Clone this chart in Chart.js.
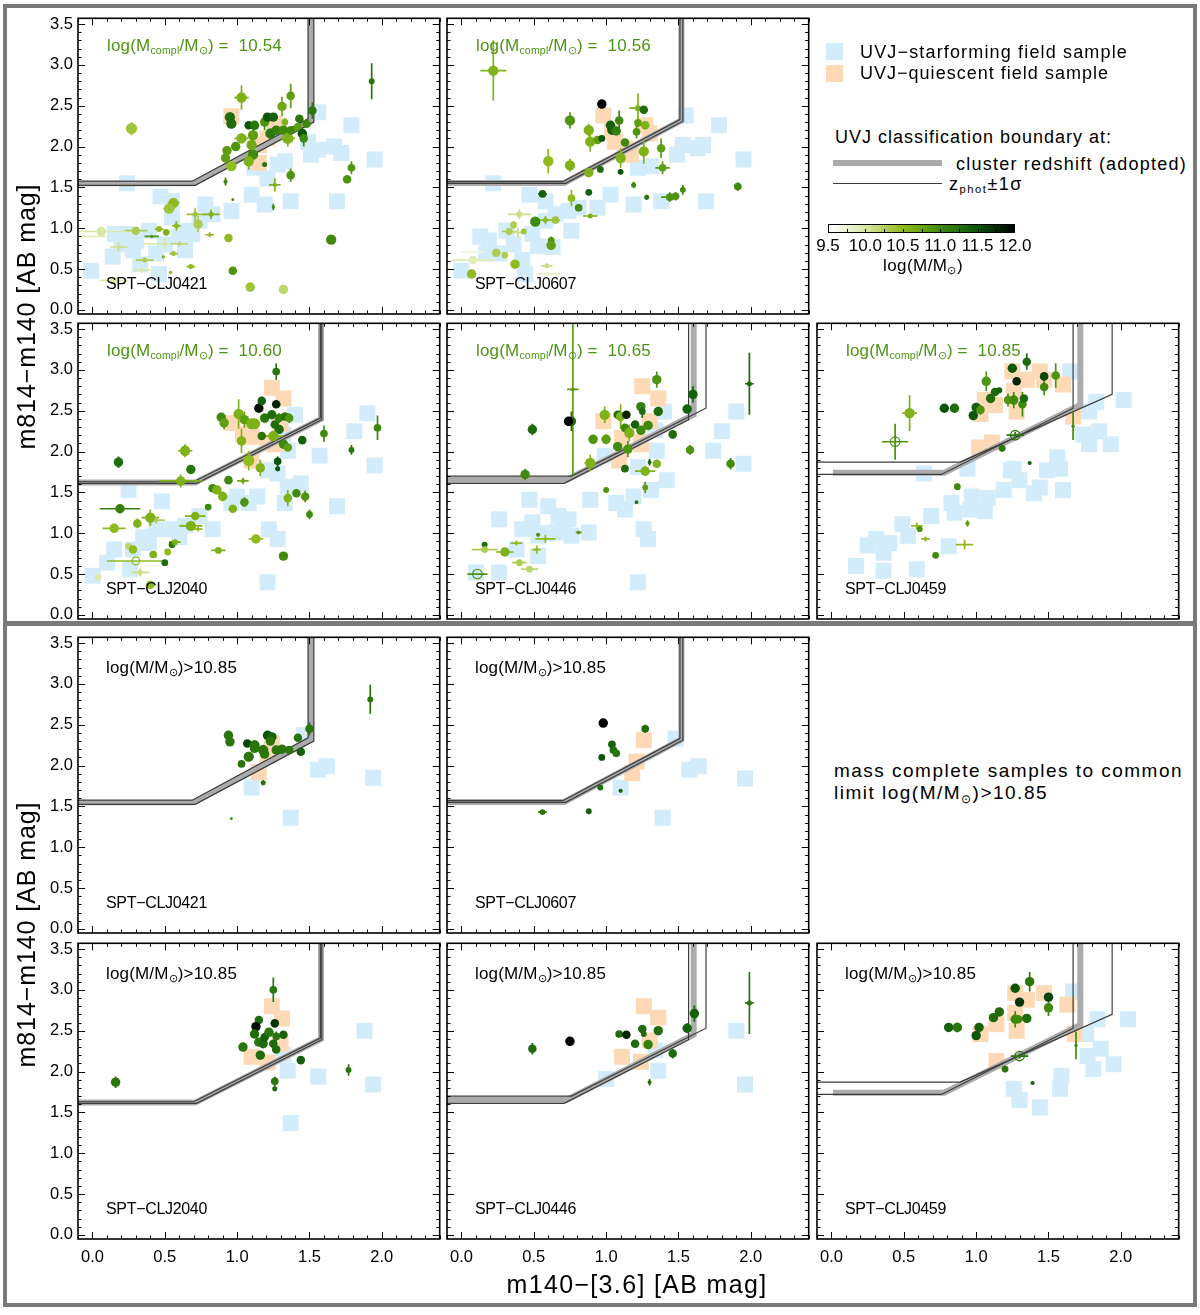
<!DOCTYPE html>
<html>
<head>
<meta charset="utf-8">
<script src="https://cdn.jsdelivr.net/npm/chart.js@4.4.0/dist/chart.umd.min.js"></script>
<style>
  body { margin: 0; background: #fff; width: 1200px; height: 1315px; position: relative; overflow: hidden;
         font-family: "Liberation Sans", Arial, sans-serif; color: #000; }
  .box { position: absolute; border: 4px solid #7a7a7a; box-sizing: border-box; }
  canvas { position: absolute; }
  .lbl { position: absolute; white-space: nowrap; line-height: 1; }
  .sb { position: relative; top: 0.32em; font-size: 0.62em; }
  .sw { position: absolute; }
</style>
</head>
<body>
<div class="box" style="left:3px;top:4px;width:1194px;height:621px"></div>
<div class="box" style="left:3px;top:622px;width:1194px;height:685px"></div>
<script>
// =============================================================================
// DATA
// members: [m140-[3.6], m814-m140, log(M/Msun), membership weight, x error, y error, open symbol]
// field samples: [m140-[3.6], m814-m140]
// =============================================================================

const complLimits = ['10.54', '10.56', '10.60', '10.65', '10.85'];
const commonLimit = '10.85';

const massStops = [9.5, 10.0, 10.5, 11.0, 11.5, 12.0];
const massColors = ['#ffffff', '#d9e8a3', '#8fbb1c', '#3f8a0c', '#0b560b', '#000000'];

const xTicks = [0.0, 0.5, 1.0, 1.5, 2.0];
const yTicks = [0.0, 0.5, 1.0, 1.5, 2.0, 2.5, 3.0, 3.5];

// UVJ boundaries: [cluster redshift, zphot+1sigma, zphot-1sigma]
const uvj0421 = [
  [[-0.1, 1.55], [0.70, 1.55], [1.51, 2.32], [1.51, 3.6]],
  [[-0.1, 1.575], [0.69, 1.575], [1.49, 2.34], [1.49, 3.6]],
  [[-0.1, 1.525], [0.71, 1.525], [1.53, 2.30], [1.53, 3.6]]
];
const uvj0607 = [
  [[-0.1, 1.555], [0.71, 1.555], [1.52, 2.32], [1.52, 3.6]],
  [[-0.1, 1.57], [0.70, 1.57], [1.51, 2.33], [1.51, 3.6]],
  [[-0.1, 1.55], [0.72, 1.55], [1.53, 2.31], [1.53, 3.6]]
];
const uvj2040 = [
  [[-0.1, 1.62], [0.71, 1.62], [1.58, 2.40], [1.58, 3.6]],
  [[-0.1, 1.63], [0.70, 1.63], [1.575, 2.41], [1.575, 3.6]],
  [[-0.1, 1.61], [0.72, 1.61], [1.585, 2.39], [1.585, 3.6]]
];
const uvj0446 = [
  [[-0.1, 1.655], [0.73, 1.655], [1.605, 2.45], [1.605, 3.6]],
  [[-0.1, 1.70], [0.76, 1.70], [1.69, 2.53], [1.69, 3.6]],
  [[-0.1, 1.61], [0.71, 1.61], [1.57, 2.39], [1.57, 3.6]]
];
const uvj0459 = [
  [[0.01, 1.74], [0.78, 1.74], [1.72, 2.57], [1.72, 3.6]],
  [[-0.1, 1.87], [0.89, 1.87], [1.94, 2.70], [1.94, 3.6]],
  [[-0.1, 1.72], [0.76, 1.72], [1.67, 2.53], [1.67, 3.6]]
];

// ---- SPT-CLJ0421 ------------------------------------------------------------
const members0421 = [
  [0.27,2.22,10.4,1.0,0,0.08],[0.95,2.36,11.3,0.9,0,0.04],[0.96,2.28,11.3,0.9,0,0],
  [0.93,1.95,10.8,0.8,0,0.05],[0.92,1.86,10.8,0.8,0,0],[1.03,2.60,10.6,0.9,0.05,0.15],
  [0.96,1.76,10.5,0.9,0,0.06],[0.99,2.00,10.9,0.8,0,0],[1.03,2.10,10.6,0.9,0.05,0.06],
  [1.08,2.26,11.5,0.7,0,0],[1.12,2.26,11.2,0.8,0,0.05],[1.11,2.14,10.8,0.9,0,0.08],
  [1.11,1.90,11.0,0.9,0,0.05],[1.08,1.82,10.6,0.9,0,0.1],[1.10,2.02,10.7,0.9,0,0.08],
  [1.19,2.30,10.9,0.8,0,0.1],[1.21,2.36,11.5,0.8,0,0],[1.25,2.36,11.4,0.8,0,0],
  [1.23,2.16,11.2,0.9,0,0],[1.27,2.20,11.1,0.8,0,0],[1.31,2.49,10.7,0.8,0,0.12],
  [1.32,2.20,11.0,0.8,0,0],[1.33,2.30,10.6,0.5,0,0.05],[1.35,2.10,10.6,1.0,0.05,0.1],
  [1.37,2.62,10.8,0.7,0,0.15],[1.37,2.20,11.0,0.7,0,0],[1.43,2.34,11.2,0.7,0,0],
  [1.42,2.24,10.8,0.7,0,0],[1.45,2.16,11.5,0.8,0,0],[1.46,2.10,11.0,0.7,0,0.1],
  [1.48,2.28,11.0,0.7,0,0],[1.52,2.44,11.2,0.7,0,0.1],[1.37,1.65,10.9,0.7,0,0.08],
  [1.26,1.53,10.6,0.2,0.04,0.08],[1.19,1.78,11.2,0.3,0,0.02],[0.92,1.57,11.0,0.2,0,0.05],
  [0.97,1.35,11.0,0.05,0,0],[1.25,1.26,11.0,0.1,0,0.04],[1.93,2.80,11.2,0.4,0,0.22],
  [1.79,1.74,10.9,0.6,0,0.08],[1.76,1.60,10.9,0.7,0,0.05],[1.65,0.86,11.0,0.9,0,0],
  [0.94,0.88,10.5,0.7,0,0],[0.97,0.48,10.9,0.7,0,0],[1.09,0.28,10.4,0.8,0,0],
  [1.32,0.25,10.2,0.8,0.03,0],[0.71,1.17,10.4,0.3,0.06,0.08],[0.82,1.17,10.6,0.3,0.06,0.06],
  [0.81,0.92,10.5,0.1,0.03,0.03],[0.73,1.05,10.3,0.8,0,0.1],[0.56,1.31,10.5,0.9,0.04,0],
  [0.53,1.24,10.4,0.9,0.04,0],[0.58,1.03,10.5,0.3,0.03,0.06],[0.46,0.99,10.5,0.4,0.03,0],
  [0.51,0.95,10.6,0.5,0,0],[0.41,0.90,10.9,0.1,0.05,0],[0.30,0.97,10.3,0.7,0.08,0.03],
  [0.06,0.96,10.0,0.8,0.17,0.05],[0.18,0.77,10.1,0.2,0.06,0.06],[0.36,0.61,10.3,0.3,0.06,0],
  [0.56,0.69,10.4,0.3,0.03,0],[0.49,0.65,10.6,0.1,0,0],[0.50,0.81,10.0,0.1,0.15,0.06],
  [0.60,0.81,10.2,0.1,0.06,0.03],[0.34,0.49,10.0,0.1,0.06,0.04],[0.68,0.53,10.5,0.3,0.03,0],
  [0.54,0.46,10.6,0.1,0,0],[0.15,0.36,10.0,0.5,0.1,0],[-0.06,0.90,9.9,0.1,0.15,0]
];
const sf0421 = [
  [0.24,1.55],[0.47,1.39],[-0.01,0.48],[0.155,0.93],[0.14,0.65],[0.28,0.73],[0.39,0.97],
  [0.44,0.69],[0.33,0.56],[0.55,1.13],[0.64,0.97],[0.69,0.93],[0.78,1.29],[0.83,1.17],
  [0.96,1.21],[1.10,1.41],[1.19,1.29],[1.21,1.61],[1.12,1.74],[1.28,1.78],[1.33,1.82],
  [1.37,1.33],[1.49,2.06],[1.51,1.90],[1.56,1.96],[1.67,2.00],[1.72,1.92],[1.56,2.42],
  [1.79,2.26],[1.95,1.84],[1.69,1.33],[0.55,1.33],[0.64,0.73],[0.46,0.44],[0.23,0.93],
  [0.74,1.09],[0.20,0.80],[0.30,0.85],[0.50,0.80],[0.60,0.90]
];
const q0421 = [[0.96,2.37],[1.15,1.80],[1.15,2.02],[1.26,2.28],[1.21,2.10]];

// ---- SPT-CLJ0607 ------------------------------------------------------------
const members0607 = [
  [0.22,2.93,10.6,0.9,0.09,0.37],[0.97,2.52,12.0,0.8,0,0],[0.75,2.32,10.9,0.9,0,0.1],
  [0.88,2.20,10.6,0.9,0,0.08],[0.89,2.06,10.6,0.9,0,0.12],[0.94,2.08,10.8,0.7,0,0],
  [0.97,2.10,11.5,0.5,0,0],[1.03,2.26,11.4,0.8,0,0],[1.04,2.20,11.4,0.8,0,0],
  [1.07,2.19,11.1,0.8,0,0],[1.09,2.32,11.0,0.7,0,0.12],[1.13,2.05,11.0,0.7,0,0],
  [1.10,1.86,10.6,0.9,0,0.12],[1.10,1.69,11.5,0.4,0,0],[0.96,1.72,11.3,0.5,0,0],
  [0.88,1.68,10.6,0.8,0,0.04],[0.75,1.77,10.6,0.9,0,0.08],[0.60,1.82,10.5,0.9,0,0.15],
  [1.21,2.18,10.9,0.6,0,0.08],[1.22,2.29,10.8,0.6,0,0.05],[1.22,2.47,10.6,0.4,0.06,0.18],
  [1.26,2.45,11.3,0.7,0,0],[1.27,2.26,10.6,0.7,0,0.05],[1.26,1.94,10.6,0.9,0,0.15],
  [1.38,1.98,10.8,0.7,0,0.12],[1.39,1.74,10.8,0.6,0.05,0.08],[1.19,1.53,11.0,0.3,0,0.04],
  [1.28,1.38,11.2,0.3,0,0.03],[1.44,1.38,10.9,0.6,0.06,0.06],[1.48,1.39,10.9,0.6,0,0.05],
  [1.53,1.47,11.0,0.4,0,0.06],[1.91,1.51,11.0,0.6,0,0.05],[0.56,1.42,11.4,0.6,0.03,0],
  [0.88,1.44,11.4,0.5,0,0],[0.76,1.37,10.5,0.6,0,0.1],[0.81,1.25,11.0,0.6,0,0],
  [0.89,1.15,10.6,0.3,0.05,0],[0.51,1.08,11.0,0.9,0,0],[0.58,1.10,10.5,0.3,0.06,0.05],
  [0.65,1.10,10.4,0.6,0.03,0],[0.40,1.17,10.1,0.4,0.08,0.06],[0.36,1.04,10.3,0.5,0,0.05],
  [0.33,0.96,10.3,0.5,0.05,0],[0.43,0.96,10.4,0.4,0,0],[0.39,0.95,10.1,0.1,0.06,0.06],
  [0.62,0.85,10.9,0.5,0,0.05],[0.62,0.79,10.8,0.8,0,0],[0.24,0.70,10.3,0.7,0,0],
  [0.30,0.67,10.3,0.5,0,0],[0.37,0.56,10.5,0.8,0,0],[0.08,0.71,9.7,0.2,0.08,0],
  [0.08,0.61,9.9,0.7,0.15,0],[0.07,0.44,10.5,0.8,0,0],[0.59,0.54,10.1,0.3,0.04,0],
  [0.60,0.44,9.8,0.2,0.08,0]
];
const sf0607 = [
  [0.22,1.55],[0.47,1.41],[0.00,0.48],[0.19,0.85],[0.26,0.69],[0.17,0.69],[0.42,0.61],
  [0.31,0.97],[0.49,0.93],[0.58,1.09],[0.65,1.17],[0.74,1.21],[0.81,1.25],[0.94,1.25],
  [1.03,1.41],[1.19,1.29],[1.22,1.74],[1.31,1.76],[1.38,1.33],[1.49,1.90],[1.53,2.02],
  [1.63,1.98],[1.67,2.02],[1.55,2.38],[1.78,2.26],[1.95,1.84],[1.69,1.33],[0.58,1.33],
  [0.63,0.77],[0.76,0.97],[0.44,0.44],[0.13,0.90],[0.36,0.80],[0.53,0.78]
];
const q0607 = [[0.98,2.38],[1.06,2.06],[1.13,1.98],[1.17,1.90],[1.27,2.26],[1.30,2.16],[1.04,2.18]];

// ---- SPT-CLJ2040 ------------------------------------------------------------
const members2040 = [
  [0.18,1.87,11.3,0.8,0,0.07],[0.64,2.01,10.6,0.9,0.05,0.08],[0.68,1.78,11.2,0.8,0,0],
  [0.61,1.64,10.6,0.8,0.15,0.08],[0.89,2.42,11.0,0.8,0,0.05],[0.91,2.35,10.8,0.8,0,0.08],
  [1.01,2.46,10.6,0.9,0,0.18],[1.05,2.39,10.8,0.8,0,0.1],[1.10,2.34,10.6,1.0,0,0],
  [1.12,2.34,10.6,1.0,0,0],[1.03,2.13,10.6,0.8,0,0.15],[1.08,1.89,10.5,1.0,0,0.12],
  [1.16,1.80,10.6,0.8,0,0.1],[1.15,2.53,11.9,0.8,0,0],[1.17,2.62,11.4,0.7,0,0.05],
  [1.19,2.41,11.2,0.8,0,0],[1.24,2.45,11.3,0.8,0,0],[1.27,2.58,11.8,0.7,0,0],
  [1.27,2.98,11.2,0.6,0,0.1],[1.26,2.33,11.3,0.7,0,0],[1.29,2.27,11.3,0.8,0,0],
  [1.29,2.41,11.1,0.7,0,0.06],[1.33,2.43,11.2,0.7,0,0],[1.36,2.41,10.9,0.7,0,0.06],
  [1.17,2.19,11.2,0.7,0,0],[1.25,2.19,10.6,0.9,0.07,0],[1.32,2.09,11.0,0.8,0,0],
  [1.35,2.05,10.8,0.7,0,0],[1.28,1.88,11.5,0.6,0,0.06],[1.28,1.79,11.5,0.3,0,0.03],
  [1.45,2.14,11.4,0.7,0,0],[1.60,2.22,11.0,0.6,0,0.1],[1.79,2.02,11.2,0.4,0,0.06],
  [1.97,2.29,11.0,0.6,0,0.15],[0.83,1.55,11.0,0.7,0,0],[0.86,1.53,10.6,0.8,0,0],
  [0.90,1.45,10.6,0.8,0,0.06],[0.94,1.65,11.0,0.7,0,0],[1.04,1.64,10.7,0.2,0.04,0.04],
  [1.05,1.38,10.9,0.7,0,0.06],[0.97,1.30,10.6,0.7,0,0.04],[0.80,1.32,11.0,0.5,0,0],
  [1.35,1.43,10.6,0.7,0,0.1],[1.41,1.49,11.0,0.7,0,0],[1.47,1.45,10.9,0.7,0,0.07],
  [1.50,1.23,11.0,0.5,0,0.06],[1.13,0.93,10.5,0.8,0.05,0],[0.87,0.79,10.6,0.5,0.05,0],
  [1.32,0.72,11.0,0.8,0,0],[0.19,1.30,11.1,0.8,0.14,0],[0.15,1.06,10.5,0.8,0.08,0],
  [0.31,1.12,10.6,0.7,0,0.06],[0.40,1.19,10.6,0.9,0.06,0.1],[0.44,1.16,10.3,0.2,0.06,0.04],
  [0.71,1.21,10.6,0.7,0.07,0.05],[0.68,1.09,10.6,0.9,0.08,0],[0.73,1.05,10.5,0.1,0.03,0.03],
  [0.55,0.86,11.2,0.5,0,0],[0.57,0.89,10.6,0.4,0.04,0],[0.52,0.77,10.5,0.5,0,0],
  [0.42,0.74,10.6,0.6,0,0],[0.50,0.64,11.3,0.5,0,0],[0.25,0.84,10.2,0.5,0,0],
  [0.28,0.80,10.5,0.7,0,0],[0.30,0.66,10.5,0.6,0.2,0,1],[0.33,0.52,10.1,0.3,0.06,0.05],
  [0.04,0.46,10.0,0.5,0,0],[0.40,0.37,10.5,0.7,0,0]
];
const sf2040 = [
  [0.25,1.53],[0.48,1.39],[0.00,0.48],[0.10,0.64],[0.15,0.80],[0.26,0.56],[0.28,0.80],
  [0.39,0.88],[0.44,1.05],[0.55,1.05],[0.64,1.09],[0.74,1.21],[0.83,1.05],[0.96,1.37],
  [1.08,1.37],[1.14,1.45],[1.21,1.77],[1.28,1.73],[1.33,1.37],[1.22,1.05],[1.28,0.93],
  [1.35,1.57],[1.44,1.61],[1.40,2.45],[1.57,1.95],[1.69,1.33],[1.81,2.25],[1.90,2.47],
  [1.95,1.83],[1.21,0.40],[0.35,0.95],[0.60,0.95],[1.00,1.45],[1.32,2.21],[1.35,2.01]
];
const q2040 = [[1.24,2.78],[1.32,2.65],[0.97,2.35],[1.04,2.21],[1.10,2.18],[1.21,2.11],[1.30,2.34],[1.10,1.89],[1.26,2.09]];

// ---- SPT-CLJ0446 ------------------------------------------------------------
const members0446 = [
  [0.49,2.27,11.3,0.8,0,0.07],[0.44,1.72,11.0,0.8,0,0.07],[0.77,2.76,10.8,0.2,0.04,1.05],
  [0.76,2.37,11.3,0.8,0,0.12],[0.74,2.37,12.0,0.8,0,0],[0.89,1.86,10.6,0.9,0.04,0.1],
  [0.91,2.15,10.9,0.8,0,0],[1.00,2.15,10.8,0.8,0,0.06],[0.99,2.45,10.6,0.9,0,0.1],
  [1.08,2.45,11.3,0.7,0,0],[1.10,2.43,10.6,0.8,0,0.15],[1.14,2.45,11.8,0.7,0,0],
  [1.13,2.29,11.0,0.7,0,0],[1.16,2.23,10.6,0.9,0,0.1],[1.08,2.06,11.0,0.8,0,0],
  [1.15,2.03,10.9,0.8,0,0.1],[1.13,1.79,11.3,0.6,0,0],[1.20,2.33,11.4,0.7,0,0],
  [1.24,2.55,11.1,0.8,0,0],[1.25,2.49,11.3,0.5,0,0.08],[1.24,2.26,11.0,0.8,0,0],
  [1.29,2.32,11.0,0.8,0,0],[1.35,2.88,10.9,0.8,0,0.1],[1.36,2.49,11.3,0.8,0,0],
  [1.46,2.21,11.3,0.7,0,0.05],[1.56,2.52,11.4,0.8,0,0.05],[1.60,2.70,11.4,0.8,0,0.1],
  [1.58,2.02,10.9,0.7,0,0.06],[1.86,1.85,11.0,0.7,0,0.07],[1.99,2.83,11.3,0.3,0.03,0.38],
  [1.30,1.87,11.4,0.15,0,0.04],[1.35,1.85,10.6,0.7,0,0.05],[1.27,1.76,10.6,0.8,0.07,0.06],
  [1.27,1.56,10.8,0.4,0,0.07],[1.00,1.53,10.9,0.4,0,0],[1.21,1.38,11.2,0.15,0,0.02],
  [0.81,1.01,10.8,0.15,0.02,0],[0.53,0.98,10.9,0.2,0,0],[0.38,0.88,10.5,0.1,0.04,0.03],
  [0.58,0.93,10.5,0.1,0.07,0.05],[0.52,0.80,10.5,0.1,0.03,0.05],[0.16,0.86,11.3,0.4,0,0],
  [0.16,0.80,10.3,0.5,0.09,0],[0.30,0.77,10.6,0.8,0.06,0.05],[0.40,0.64,10.3,0.5,0.05,0],
  [0.47,0.56,10.2,0.5,0.06,0],[0.11,0.50,10.9,0.8,0.07,0,1]
];
const sf0446 = [
  [0.47,1.41],[0.60,1.33],[0.26,1.17],[0.42,1.05],[0.49,1.13],[0.53,0.97],[0.67,1.21],
  [0.74,1.17],[0.65,1.01],[0.76,0.97],[0.88,1.01],[0.53,0.72],[0.38,0.80],[0.26,0.52],
  [0.10,0.52],[0.89,1.41],[1.07,1.37],[1.13,1.29],[1.19,1.45],[1.26,1.05],[1.29,0.93],
  [1.22,0.40],[1.22,1.81],[1.31,1.53],[1.42,1.65],[1.35,2.01],[1.40,2.49],[1.74,2.01],
  [1.80,2.25],[1.90,2.49],[1.95,1.85],[0.99,1.95],[1.34,2.26],[0.70,1.10],[0.60,1.00]
];
const q0446 = [[1.25,2.80],[1.36,2.65],[0.98,2.37],[1.11,2.17],[1.09,1.89],[1.24,2.09],[1.30,2.37],[1.24,2.12]];

// ---- SPT-CLJ0459 ------------------------------------------------------------
const members0459 = [
  [0.44,2.12,10.9,0.8,0.09,0.22,1],[0.54,2.47,10.6,0.9,0.05,0.22],[0.78,2.53,11.5,0.8,0.03,0],
  [0.85,2.53,11.3,0.8,0,0.05],[1.00,2.54,11.4,0.8,0,0],[0.98,2.44,11.5,0.8,0,0],
  [1.03,2.51,10.9,0.7,0,0.06],[1.07,2.86,10.9,0.8,0,0.12],[1.10,2.65,11.3,0.8,0,0],
  [1.13,2.73,11.3,0.7,0,0],[1.16,2.75,11.4,0.4,0,0],[1.22,2.63,10.9,0.7,0,0.08],
  [1.25,3.02,11.5,0.8,0,0.05],[1.26,2.63,11.0,0.8,0,0.1],[1.28,2.86,11.8,0.7,0,0],
  [1.32,2.58,11.0,0.7,0,0.15],[1.33,2.65,11.3,0.7,0,0],[1.35,3.10,11.3,0.7,0,0.1],
  [1.47,2.92,11.6,0.7,0,0],[1.47,2.79,11.0,0.7,0,0.1],[1.55,2.93,10.9,0.7,0,0.15],
  [1.27,2.20,11.2,0.8,0.06,0.04,1],[1.18,2.04,11.2,0.5,0,0.04],[1.37,1.86,11.4,0.2,0,0],
  [1.67,2.31,11.0,0.1,0,0.17],[0.87,1.57,11.0,0.5,0,0.04],[0.94,1.12,10.8,0.2,0,0.04],
  [0.59,1.09,10.5,0.1,0.04,0.04],[0.61,1.05,10.9,0.4,0,0],[0.65,0.93,10.5,0.1,0.03,0.03],
  [0.72,0.73,11.0,0.5,0,0],[0.92,0.86,10.5,0.1,0.06,0.06]
];
const sf0459 = [
  [0.17,0.60],[0.36,0.54],[0.31,0.93],[0.40,0.88],[0.49,1.11],[0.53,0.97],[0.36,0.76],
  [0.59,0.56],[0.69,1.21],[0.81,0.84],[0.83,1.37],[0.85,1.25],[0.97,1.45],[0.96,1.29],
  [1.06,1.27],[1.08,1.43],[1.19,1.53],[1.24,1.77],[1.40,1.49],[1.49,1.77],[1.56,1.93],
  [1.60,1.53],[0.64,1.73],[0.94,1.79],[1.65,2.98],[1.78,2.49],[1.83,2.61],[1.85,2.25],
  [1.74,2.21],[1.78,2.09],[1.93,2.09],[2.02,2.63],[0.25,0.85],[1.30,1.65],[1.44,1.56],
  [1.58,1.79],[1.26,1.79]
];
const q0459 = [[1.25,2.98],[1.44,2.98],[1.60,2.82],[1.06,2.63],[1.13,2.57],[1.26,2.74],[1.28,2.49],
  [1.67,2.43],[1.11,2.11],[1.02,2.05],[1.47,2.88],[1.35,2.88],[1.03,2.46]];

// ---- mass complete samples, log(M/Msun) > 10.85 ------------------------------
const massive0421 = [
  [0.94,2.37,11.2,0.8,0,0.03],[0.95,2.29,11.2,0.8,0,0],[1.07,2.27,11.6,0.7,0,0],
  [1.12,2.25,11.2,0.9,0,0],[1.12,2.21,11.2,0.8,0,0],[1.08,2.11,11.2,0.9,0,0],
  [1.03,2.02,11.2,0.6,0,0],[1.18,2.19,11.2,0.9,0,0],[1.19,2.14,11.2,0.8,0,0],
  [1.21,2.37,11.5,0.8,0,0],[1.24,2.35,11.4,0.8,0,0],[1.23,2.30,11.2,0.8,0,0.04],
  [1.27,2.19,11.2,0.8,0,0],[1.31,2.20,11.2,0.8,0,0],[1.36,2.19,11.2,0.7,0,0],
  [1.42,2.34,11.2,0.7,0,0],[1.44,2.17,11.4,0.7,0,0],[1.50,2.45,11.2,0.7,0,0.08],
  [1.92,2.81,11.2,0.4,0,0.18],[1.18,1.79,11.2,0.3,0,0.03],[0.96,1.35,11.0,0.05,0,0]
];
const sfMassive0421 = [[1.10,1.73],[1.46,2.37],[1.56,1.95],[1.62,1.99],[1.94,1.85],[1.37,1.36]];
const qMassive0421 = [[1.15,1.92],[1.21,2.12],[1.24,2.27]];

const massive0607 = [
  [0.98,2.52,12.0,0.8,0,0],[1.27,2.45,11.3,0.6,0,0.05],[1.04,2.26,11.4,0.6,0,0],
  [1.05,2.19,11.3,0.6,0,0],[1.07,2.15,11.2,0.6,0,0],[0.97,2.10,11.5,0.5,0,0],
  [0.96,1.73,11.3,0.4,0,0],[1.10,1.69,11.4,0.2,0,0],[0.88,1.44,11.4,0.4,0,0],
  [0.56,1.43,11.2,0.4,0.03,0]
];
const sfMassive0607 = [[1.10,1.73],[1.48,2.33],[1.575,1.95],[1.64,1.99],[1.96,1.84],[1.39,1.36]];
const qMassive0607 = [[1.26,2.31],[1.21,2.05],[1.18,1.91]];

const massive2040 = [
  [0.16,1.87,11.2,0.8,0,0.07],[1.04,2.30,11.2,0.8,0,0],[1.15,2.63,11.3,0.7,0,0.05],
  [1.13,2.55,11.9,0.8,0,0],[1.12,2.46,11.3,0.8,0,0],[1.15,2.36,11.2,0.8,0,0],
  [1.16,2.20,11.3,0.8,0,0],[1.18,2.34,11.3,0.8,0,0],[1.19,2.42,11.4,0.7,0,0],
  [1.22,2.48,11.2,0.8,0,0],[1.26,2.59,11.7,0.7,0,0],[1.25,3.00,11.2,0.6,0,0.15],
  [1.25,2.34,11.3,0.7,0,0],[1.27,2.43,11.2,0.6,0,0.06],[1.27,2.27,11.3,0.7,0,0],
  [1.32,2.45,11.4,0.7,0,0],[1.44,2.14,11.4,0.7,0,0],[1.26,1.88,11.2,0.6,0,0.06],
  [1.26,1.79,11.3,0.3,0,0.03],[1.77,2.02,11.2,0.4,0,0.07]
];
const sfMassive2040 = [[1.32,2.21],[1.35,2.01],[1.56,1.94],[1.88,2.50],[1.94,1.84],[1.37,1.37]];
const qMassive2040 = [[1.24,2.80],[1.31,2.65],[1.10,2.18],[1.21,2.11],[1.30,2.34]];

const massive0446 = [
  [0.49,2.28,11.3,0.7,0,0.07],[0.75,2.37,12.0,0.8,0,0],[1.09,2.46,11.3,0.6,0,0],
  [1.14,2.45,11.8,0.7,0,0],[1.25,2.52,11.3,0.7,0,0.05],[1.26,2.46,11.3,0.4,0,0],
  [1.20,2.34,11.3,0.7,0,0],[1.29,2.33,11.1,0.8,0,0],[1.36,2.50,11.3,0.8,0,0],
  [1.46,2.22,11.3,0.7,0,0.06],[1.56,2.53,11.4,0.8,0,0.06],[1.61,2.71,11.4,0.8,0,0.1],
  [1.30,1.87,11.3,0.15,0,0.04],[1.99,2.84,11.2,0.3,0.03,0.38]
];
const sfMassive0446 = [[1.00,1.91],[1.36,2.01],[1.34,2.26],[1.90,2.50],[1.96,1.84]];
const qMassive0446 = [[1.26,2.80],[1.36,2.66],[1.11,2.18],[1.24,2.12],[1.30,2.38]];

const massive0459 = [
  [0.81,2.54,11.4,0.8,0.03,0],[0.87,2.54,11.2,0.8,0,0.06],[1.02,2.54,11.4,0.8,0,0],
  [1.00,2.44,11.5,0.8,0,0],[1.12,2.66,11.3,0.8,0,0],[1.16,2.73,11.3,0.8,0,0],
  [1.27,3.02,11.5,0.8,0,0.05],[1.30,2.85,11.7,0.8,0,0],[1.27,2.64,11.0,0.8,0,0.1],
  [1.29,2.64,11.0,0.7,0,0],[1.35,2.65,11.3,0.8,0,0],[1.37,3.10,11.2,0.8,0,0.12],
  [1.50,2.91,11.6,0.8,0,0],[1.50,2.78,11.0,0.8,0,0.1],[1.30,2.19,11.2,0.8,0.06,0.03,1],
  [1.20,2.03,11.2,0.5,0,0.04],[1.39,1.86,11.4,0.2,0,0],[1.69,2.32,11.0,0.1,0,0.17]
];
const sfMassive0459 = [[1.67,2.98],[1.84,2.64],[2.05,2.64],[1.86,2.28],[1.77,2.19],[1.81,2.03],
  [1.95,2.09],[1.59,1.95],[1.58,1.79],[1.26,1.79],[1.30,1.65],[1.44,1.56],[1.76,2.46]];
const qMassive0459 = [[1.27,2.96],[1.47,2.96],[1.63,2.82],[1.35,2.88],[1.27,2.72],[1.28,2.50],
  [1.14,2.58],[1.03,2.46],[1.14,2.13],[1.68,2.46]];

// =============================================================================
// LAYOUT
// =============================================================================

const PANEL_W = 365, PANEL_H = 299;
const colLeft = [78, 447, 817];
const rowTop = [15, 320, 634, 940];
const PAD = { left: 55, right: 8, top: 8, bottom: 34 };

const SF_COLOR = 'rgb(211,236,251)';
const Q_COLOR = 'rgb(253,217,182)';
const COMPL_COLOR = 'rgb(78,148,20)';

const panels = [
  { name: 'SPT−CLJ0421', col: 0, row: 0, members: members0421, sf: sf0421, q: q0421, uvj: uvj0421, compl: complLimits[0] },
  { name: 'SPT−CLJ0607', col: 1, row: 0, members: members0607, sf: sf0607, q: q0607, uvj: uvj0607, compl: complLimits[1] },
  { name: 'SPT−CLJ2040', col: 0, row: 1, members: members2040, sf: sf2040, q: q2040, uvj: uvj2040, compl: complLimits[2] },
  { name: 'SPT−CLJ0446', col: 1, row: 1, members: members0446, sf: sf0446, q: q0446, uvj: uvj0446, compl: complLimits[3] },
  { name: 'SPT−CLJ0459', col: 2, row: 1, members: members0459, sf: sf0459, q: q0459, uvj: uvj0459, compl: complLimits[4] },
  { name: 'SPT−CLJ0421', col: 0, row: 2, members: massive0421, sf: sfMassive0421, q: qMassive0421, uvj: uvj0421 },
  { name: 'SPT−CLJ0607', col: 1, row: 2, members: massive0607, sf: sfMassive0607, q: qMassive0607, uvj: uvj0607 },
  { name: 'SPT−CLJ2040', col: 0, row: 3, members: massive2040, sf: sfMassive2040, q: qMassive2040, uvj: uvj2040 },
  { name: 'SPT−CLJ0446', col: 1, row: 3, members: massive0446, sf: sfMassive0446, q: qMassive0446, uvj: uvj0446 },
  { name: 'SPT−CLJ0459', col: 2, row: 3, members: massive0459, sf: sfMassive0459, q: qMassive0459, uvj: uvj0459 }
];

// =============================================================================
// HELPERS
// =============================================================================

const hexRgb = (h) => [1, 3, 5].map(i => parseInt(h.slice(i, i + 2), 16));

/**
 * Maps a stellar mass onto the white-green-black colour table
 */
const massColor = (m) => {
  if (m <= massStops[0]) return massColors[0];
  for (let i = 1; i < massStops.length; i++) {
    if (m <= massStops[i]) {
      const t = (m - massStops[i - 1]) / (massStops[i] - massStops[i - 1]);
      const a = hexRgb(massColors[i - 1]), b = hexRgb(massColors[i]);
      const c = a.map((v, k) => Math.round(v + (b[k] - v) * t));
      return `rgb(${c[0]},${c[1]},${c[2]})`;
    }
  }
  return massColors[massColors.length - 1];
};

const toXY = (arr) => arr.map(d => ({ x: d[0], y: d[1] }));

// Places a text label; base is the baseline in page pixels
const label = (html, x, base, fs, opts = {}) => {
  const el = document.createElement('div');
  el.className = 'lbl';
  el.innerHTML = html;
  el.style.fontSize = fs + 'px';
  el.style.left = x + 'px';
  el.style.top = (base - 0.85 * fs) + 'px';
  if (opts.color) el.style.color = opts.color;
  document.body.appendChild(el);
  if (opts.width) {
    const w = el.getBoundingClientRect().width;
    el.style.letterSpacing = ((opts.width - w) / el.textContent.length) + 'px';
  }
  if (opts.center) el.style.left = (x - el.getBoundingClientRect().width / 2) + 'px';
  return el;
};

const swatch = (x, y, w, h, bg) => {
  const el = document.createElement('div');
  el.className = 'sw';
  Object.assign(el.style, { left: x + 'px', top: y + 'px', width: w + 'px', height: h + 'px', background: bg });
  document.body.appendChild(el);
  return el;
};

// =============================================================================
// PLUGINS
// =============================================================================

// Error bars drawn just below the member symbols
const errorBars = {
  id: 'errorBars',
  beforeDatasetDraw(chart, args) {
    const ds = chart.data.datasets[args.index];
    if (!ds.errs) return;
    const { ctx, chartArea: a, scales: { x, y } } = chart;
    ctx.save();
    ctx.beginPath();
    ctx.rect(a.left, a.top, a.width, a.height);
    ctx.clip();
    ctx.lineWidth = 1.7;
    ds.errs.forEach((e, i) => {
      const p = ds.data[i];
      ctx.strokeStyle = ds.pointBorderColor[i];
      ctx.beginPath();
      if (e[0] > 0) {
        ctx.moveTo(x.getPixelForValue(p.x - e[0]), y.getPixelForValue(p.y));
        ctx.lineTo(x.getPixelForValue(p.x + e[0]), y.getPixelForValue(p.y));
      }
      if (e[1] > 0) {
        ctx.moveTo(x.getPixelForValue(p.x), y.getPixelForValue(p.y - e[1]));
        ctx.lineTo(x.getPixelForValue(p.x), y.getPixelForValue(p.y + e[1]));
      }
      ctx.stroke();
    });
    ctx.restore();
  }
};

// IDL style box with inward ticks on all four sides
const frameTicks = {
  id: 'frameTicks',
  afterDraw(chart, args, opts) {
    const { ctx, chartArea: a, scales: { x, y } } = chart;
    ctx.save();
    ctx.strokeStyle = '#000';
    ctx.lineWidth = 1;
    ctx.beginPath();
    for (let i = -1; i <= 24; i++) {
      const px = Math.round(x.getPixelForValue(i / 10)) + 0.5;
      const len = i % 5 === 0 ? 7 : 3.5;
      ctx.moveTo(px, a.bottom); ctx.lineTo(px, a.bottom - len);
      ctx.moveTo(px, a.top); ctx.lineTo(px, a.top + len);
    }
    for (let i = 0; i <= 35; i++) {
      const py = Math.round(y.getPixelForValue(i / 10)) + 0.5;
      const len = i % 5 === 0 ? 7 : 3.5;
      ctx.moveTo(a.left, py); ctx.lineTo(a.left + len, py);
      ctx.moveTo(a.right, py); ctx.lineTo(a.right - len, py);
    }
    ctx.stroke();
    ctx.lineWidth = 1.6;
    ctx.strokeRect(a.left, a.top, a.width, a.height);

    ctx.fillStyle = '#000';
    ctx.font = '16.5px "Liberation Sans", Arial, sans-serif';
    if (opts.xLabels) {
      ctx.textAlign = 'center';
      ctx.textBaseline = 'middle';
      xTicks.forEach(v => ctx.fillText(v.toFixed(1), x.getPixelForValue(v), a.bottom + 18));
    }
    if (opts.yLabels) {
      ctx.textAlign = 'right';
      ctx.textBaseline = 'middle';
      yTicks.forEach(v => ctx.fillText(v.toFixed(1), a.left - 5, y.getPixelForValue(v)));
    }
    ctx.restore();
  }
};

// =============================================================================
// PANELS
// =============================================================================

const lineSet = (pts, color, width, order) => ({
  data: toXY(pts), showLine: true, pointRadius: 0, borderColor: color, borderWidth: width,
  borderJoinStyle: 'miter', borderCapStyle: 'butt', fill: false, order, clip: 0
});

const squareSet = (pts, color, order) => ({
  data: toXY(pts), pointStyle: 'rect', pointRadius: 11.3, pointBorderWidth: 0,
  pointBackgroundColor: color, pointBorderColor: color, order, clip: 0
});

const createPanel = (p) => {
  const canvas = document.createElement('canvas');
  const w = PANEL_W + PAD.left + PAD.right, h = PANEL_H + PAD.top + PAD.bottom;
  canvas.width = w; canvas.height = h;
  canvas.style.width = w + 'px'; canvas.style.height = h + 'px';
  canvas.style.left = (colLeft[p.col] - PAD.left) + 'px';
  canvas.style.top = (rowTop[p.row] - PAD.top) + 'px';
  document.body.appendChild(canvas);

  const m = p.members;
  const colors = m.map(d => massColor(d[2]));

  return new Chart(canvas.getContext('2d'), {
    type: 'scatter',
    data: {
      datasets: [
        {
          data: toXY(m),
          errs: m.map(d => [d[4], d[5]]),
          pointStyle: 'circle',
          pointRadius: m.map(d => 1.2 + 4.4 * d[3]),
          pointBackgroundColor: m.map((d, i) => d[6] ? 'rgba(0,0,0,0)' : colors[i]),
          pointBorderColor: colors,
          pointBorderWidth: m.map(d => d[6] ? 1.3 : 0),
          order: 0, clip: 0
        },
        lineSet(p.uvj[1], '#3c3c3c', 1.2, 1),
        lineSet(p.uvj[2], '#3c3c3c', 1.2, 1),
        lineSet(p.uvj[0], '#ababab', 6, 2),
        squareSet(p.q, Q_COLOR, 3),
        squareSet(p.sf, SF_COLOR, 4)
      ]
    },
    options: {
      responsive: false,
      animation: false,
      events: [],
      layout: { padding: PAD },
      scales: {
        x: { type: 'linear', min: -0.1, max: 2.4, display: false },
        y: { type: 'linear', min: -0.05, max: 3.57, display: false }
      },
      plugins: {
        legend: { display: false },
        tooltip: { enabled: false },
        frameTicks: { xLabels: p.row === 3, yLabels: p.col === 0 }
      }
    },
    plugins: [errorBars, frameTicks]
  });
};

panels.forEach(p => {
  createPanel(p);
  const left = colLeft[p.col] + 28, top = rowTop[p.row];
  label(p.name, left, top + 275, 16, { width: 101 });
  if (p.compl) {
    label(`log(M<span class="sb">compl</span>/M<span class="sb">⊙</span>) = &nbsp;${p.compl}`,
      colLeft[p.col] + 29, top + 36, 17, { width: 175, color: COMPL_COLOR });
  } else {
    label(`log(M/M<span class="sb">⊙</span>)&gt;${commonLimit}`, left, top + 39, 17, { width: 131 });
  }
});

// =============================================================================
// LEGEND, COLOUR BAR AND AXIS TITLES
// =============================================================================

swatch(826, 43, 17, 17, SF_COLOR);
swatch(826, 65, 17, 17, Q_COLOR);
label('UVJ−starforming field sample', 860, 58, 18, { width: 268 });
label('UVJ−quiescent field sample', 860, 79, 18, { width: 249 });
label('UVJ classification boundary at:', 835, 143, 18, { width: 277 });
swatch(833, 160, 109, 6, '#ababab');
label('cluster redshift (adopted)', 956, 170, 18, { width: 231 });
swatch(833, 183, 109, 1.3, '#3c3c3c');
label('z<span class="sb">phot</span>±1σ', 949, 190, 18, { width: 74 });

// colour bar
const cbLeft = 828, cbTop = 224, cbW = 187, cbH = 9;
const grad = massStops.map((s, i) =>
  `${massColors[i]} ${((s - massStops[0]) / (massStops[massStops.length - 1] - massStops[0]) * 100).toFixed(1)}%`).join(',');
const cb = swatch(cbLeft, cbTop, cbW, cbH, `linear-gradient(to right, ${grad})`);
cb.style.border = '1px solid #000';
cb.style.boxSizing = 'border-box';
for (let i = 1; i < 10; i++) {
  swatch(cbLeft + cbW * i / 10, cbTop + cbH - 4, 1, 3, '#000');
}
massStops.forEach(s => {
  const px = cbLeft + (s - massStops[0]) / (massStops[massStops.length - 1] - massStops[0]) * cbW;
  label(s.toFixed(1), px, 251, 17, { center: true });
});
label('log(M/M<span class="sb">⊙</span>)', 923, 271, 17, { width: 80, center: true });

label('mass complete samples to common', 834, 777, 19, { width: 349 });
label(`limit log(M/M<span class="sb">⊙</span>)&gt;${commonLimit}`, 834, 799, 19, { width: 214 });

// axis titles
const yTitle = (cy) => {
  const el = label('m814−m140 [AB mag]', 0, 0, 25, { width: 266 });
  const r = el.getBoundingClientRect();
  el.style.left = (26 - r.width / 2) + 'px';
  el.style.top = (cy - r.height / 2) + 'px';
  el.style.transform = 'rotate(-90deg)';
};
yTitle(316);
yTitle(934);
label('m140−[3.6] [AB mag]', 637, 1293, 25, { width: 261, center: true });
</script>
</body>
</html>
